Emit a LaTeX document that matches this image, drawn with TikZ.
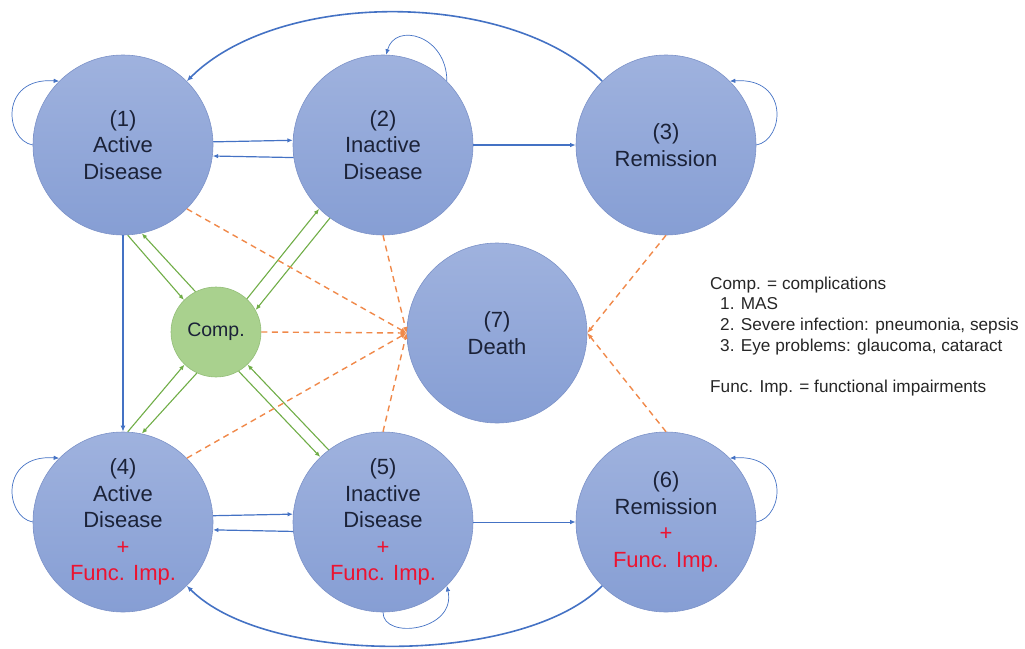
\documentclass[tikz,border=0pt]{standalone}
\usepackage{fontspec}
\setmainfont{Liberation Sans}
\usetikzlibrary{arrows.meta}
\definecolor{cblue}{HTML}{4472C4}
\definecolor{cgreen}{HTML}{70AD47}
\definecolor{corange}{HTML}{F0894A}
\definecolor{ctext}{HTML}{1B2238}
\definecolor{cred}{HTML}{EC1330}
\definecolor{fillTop}{HTML}{9FB2DE}
\definecolor{fillBot}{HTML}{869ED4}
\definecolor{circEdge}{HTML}{7C92C8}
\definecolor{compFill}{HTML}{A9D18E}
\definecolor{compEdge}{HTML}{93BE78}
\definecolor{legText}{HTML}{262626}
\newcommand{\redtxt}[1]{\textcolor{cred}{#1}}
\begin{document}
\begin{tikzpicture}[x=1pt,y=1pt,
  state/.style={circle, minimum size=180pt, inner sep=0pt, draw=circEdge, line width=0.6pt,
    top color=fillTop, bottom color=fillBot, align=center, text=ctext,
    font=\fontsize{22}{26.5}\selectfont},
  compnode/.style={circle, minimum size=90pt, inner sep=0pt, draw=compEdge, line width=0.6pt,
    fill=compFill, text=ctext, font=\fontsize{19.5}{23}\selectfont},
  thickarr/.style={draw=cblue, line width=1.6pt, -{Latex[length=6pt,width=5pt]}},
  midarr/.style={draw=cblue, line width=1.2pt, -{Latex[length=5.5pt,width=4.5pt]}},
  looparr/.style={draw=cblue, line width=0.7pt, -{Latex[length=5.5pt,width=4.5pt]}},
  greenarr/.style={draw=cgreen, line width=1.1pt, -{Latex[length=5.5pt,width=4.5pt]}},
  deatharr/.style={draw=corange, line width=1.4pt, dash pattern=on 6pt off 4.5pt,
    -{Latex[length=6pt,width=5pt]}},
  legend/.style={anchor=north west, inner sep=0pt, align=left, text=legText,
    font=\fontsize{17.2}{20.7}\selectfont}
]
\useasboundingbox (0,0) rectangle (1025,-648);

% states
\node[state] (n1) at (123,-145) {(1)\\Active\\Disease};
\node[state] (n2) at (383,-145) {(2)\\Inactive\\Disease};
\node[state] (n3) at (666,-145) {(3)\\Remission};
\node[state] (n7) at (497,-333) {(7)\\Death};
\node[state] (n4) at (123,-522) {(4)\\Active\\Disease\\\redtxt{+}\\\redtxt{Func. Imp.}};
\node[state] (n5) at (383,-522) {(5)\\Inactive\\Disease\\\redtxt{+}\\\redtxt{Func. Imp.}};
\node[state] (n6) at (666,-522) {(6)\\Remission\\\redtxt{+}\\\redtxt{Func. Imp.}};
\node[compnode] (comp) at (216,-332) {Comp.};

% legend
\node[legend] (leg) at (710,-276.5) {Comp. = complications\\
\hspace*{10pt}1. MAS\\
\hspace*{10pt}2. Severe infection: pneumonia, sepsis\\
\hspace*{10pt}3. Eye problems: glaucoma, cataract\\
\mbox{}\\
Func. Imp. = functional impairments};

% self loops
\draw[looparr] (n1.west) .. controls +(-28,5) and +(-60,4) .. (n1.135);
\draw[looparr] (n4.west) .. controls +(-28,5) and +(-60,4) .. (n4.135);
\draw[looparr] (n3.east) .. controls +(28,5) and +(60,4) .. (n3.45);
\draw[looparr] (n6.east) .. controls +(28,5) and +(60,4) .. (n6.45);
\draw[looparr] (n2.45) .. controls +(0,46) and +(9,33) .. (n2.88);
\draw[looparr] (n5.south) .. controls +(0,-28) and +(10,-45) .. (n5.-45);

% big curves
\draw[thickarr] (n3.135) .. controls +(-92,92) and +(92,92) .. (n1.45);
\draw[thickarr] (n6.-135) .. controls +(-80,-80) and +(80,-80) .. (n4.-45);

% horizontal / vertical transitions
\draw[midarr] (n1.2.5) -- (n2.177.5);
\draw[midarr] (n2.-172.3) -- (n1.-7.7);
\draw[midarr] (n2.east) -- (n3.west);
\draw[midarr] (n4.4.5) -- (n5.175.5);
\draw[midarr] (n5.-174.9) -- (n4.-5.1);
\draw[looparr, line width=1pt] (n5.east) -- (n6.west);
\draw[thickarr] (n1.south) -- (n4.north);

% complications
\draw[greenarr] (n1.-87) -- (comp.135);
\draw[greenarr] (comp.117) -- (n1.-78);
\draw[greenarr] (comp.47) -- (n2.-135);
\draw[greenarr] (n2.-126) -- (comp.29);
\draw[greenarr] (n4.87.5) -- (comp.-134);
\draw[greenarr] (comp.-115) -- (n4.78);
\draw[greenarr] (comp.-60) -- (n5.134);
\draw[greenarr] (n5.127) -- (comp.-46);

% death
\draw[deatharr] (n1.-45) -- (n7.west);
\draw[deatharr] (n2.south) -- (n7.west);
\draw[deatharr] (comp.east) -- (n7.west);
\draw[deatharr] (n4.45) -- (n7.west);
\draw[deatharr] (n5.north) -- (n7.west);
\draw[deatharr] (n3.south) -- (n7.east);
\draw[deatharr] (n6.north) -- (n7.east);
\end{tikzpicture}
\end{document}
